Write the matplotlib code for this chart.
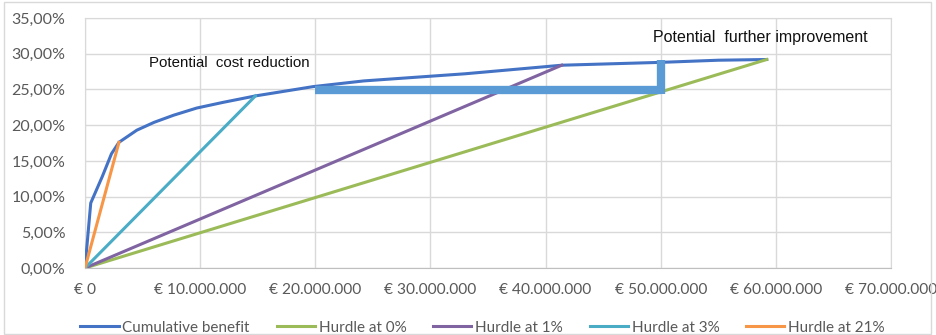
import matplotlib
matplotlib.use("Agg")
import matplotlib.pyplot as plt
from matplotlib.patches import Rectangle
from matplotlib.ticker import FuncFormatter

# Data (x in millions of €, y in %)
cum_x = [0, 0.5, 1.5, 2.3, 2.95, 4.5, 6.0, 7.7, 9.7, 12.0, 14.8, 19.8, 24.2, 33.0, 41.4, 50.0, 55.0, 59.2]
cum_y = [0, 9.1, 12.8, 16.0, 17.6, 19.3, 20.4, 21.4, 22.4, 23.2, 24.1, 25.4, 26.2, 27.2, 28.4, 28.8, 29.1, 29.2]
h0_x, h0_y = [0, 59.2], [0, 29.2]
h1_x, h1_y = [0, 41.4], [0, 28.4]
h3_x, h3_y = [0, 14.8], [0, 24.1]
h21_x, h21_y = [0, 2.95], [0, 17.6]
gap_x = [20, 50]
gap_y = [24.9, 29.1]

names = ["Cumulative benefit", "Hurdle at 0%", "Hurdle at 1%", "Hurdle at 3%", "Hurdle at 21%"]
colors = ["#4472C4", "#9BBB59", "#8064A2", "#4BACC6", "#F79646"]

plt.rcParams['font.family'] = ['Lato', 'DejaVu Sans']

fig = plt.figure(figsize=(9.37, 3.35), dpi=100)
fig.patches.append(Rectangle((0.004, 0.004), 0.99, 0.99, transform=fig.transFigure,
                             fill=False, edgecolor="#d9d9d9", lw=1))
ax = fig.add_axes([0.0907, 0.2, 0.951 - 0.0907, 0.746])

lw = 2.2
series = [(cum_x, cum_y), (h0_x, h0_y), (h1_x, h1_y), (h3_x, h3_y), (h21_x, h21_y)]
handles = []
for (xs, ys), c, n in zip(series, colors, names):
    h, = ax.plot(xs, ys, color=c, lw=lw, label=n, zorder=3)
    handles.append(h)

# annotation bars
ax.plot(gap_x, [gap_y[0], gap_y[0]], color="#5B9BD5", lw=6, solid_capstyle='butt', zorder=4)
ax.plot([gap_x[1], gap_x[1]], [gap_y[0] - 0.55, gap_y[1]], color="#5B9BD5", lw=6,
        solid_capstyle='butt', zorder=4)

ax.text(5.6, 28.7, "Potential  cost reduction", fontsize=10.8, family=['Liberation Sans'],
        va='center', ha='left', color="#111111")
ax.text(49.3, 32.3, "Potential  further improvement", fontsize=11.5, family=['Liberation Sans'],
        va='center', ha='left', color="#111111")

ax.set_xlim(0, 70)
ax.set_ylim(0, 35)
ax.set_xticks(range(0, 71, 10))
ax.set_yticks(range(0, 36, 5))


def fx(v, p):
    if v == 0:
        return "€ 0"
    return "€ " + f"{int(v*1e6):,}".replace(",", ".")


ax.xaxis.set_major_formatter(FuncFormatter(fx))
ax.yaxis.set_major_formatter(FuncFormatter(lambda v, p: f"{v:.2f}".replace(".", ",") + "%"))
ax.tick_params(length=0, labelsize=11.5, colors="#595959")
ax.tick_params(axis='x', labelsize=11.2)
ax.tick_params(axis='y', pad=14)
ax.tick_params(axis='x', pad=11)
ax.grid(True, color="#d9d9d9", lw=1, zorder=0)
for s in ax.spines.values():
    s.set_color("#d9d9d9")
ax.spines['bottom'].set_color("#bfbfbf")
ax.set_axisbelow(True)

leg = fig.legend(handles=handles, labels=names, loc='lower center', ncol=5,
                 bbox_to_anchor=(0.515, -0.04), frameon=False, fontsize=11,
                 handlelength=2.5, columnspacing=1.75, handletextpad=0.25)
for t in leg.get_texts():
    t.set_color("#595959")

fig.savefig("out.png", dpi=100)
